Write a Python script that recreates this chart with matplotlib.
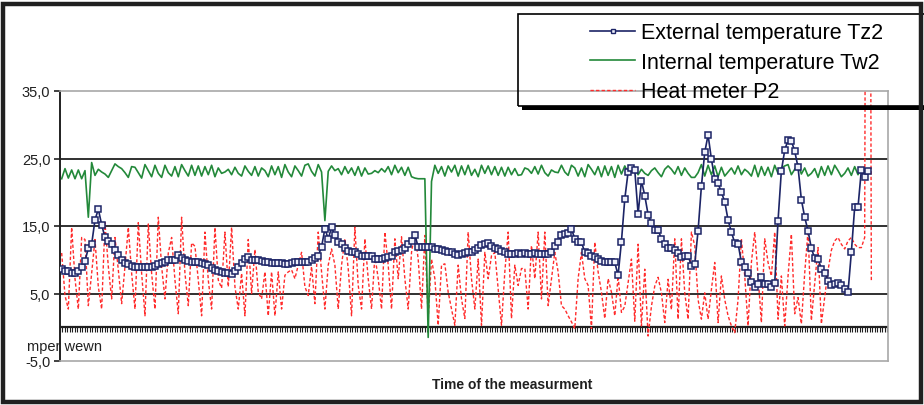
import numpy as np
import matplotlib
matplotlib.use("Agg")
import matplotlib.pyplot as plt
from matplotlib.patches import Rectangle
from matplotlib.lines import Line2D

plt.rcParams['font.family'] = ['Liberation Sans', 'DejaVu Sans']

# ---------------- data ----------------
tz2 = [
    8.6, 8.4, 8.3, 8.1, 8.1, 8.3, 8.9, 9.8, 11.7, 12.3,
    15.9, 17.5, 15.2, 13.3, 12.8, 12.3, 11.5, 10.7, 9.9, 9.5,
    9.4, 9.1, 9.0, 9.0, 8.9, 8.9, 8.9, 9.0, 9.1, 9.3,
    9.5, 9.7, 10.0, 10.0, 10.0, 10.7, 10.2, 10.0, 9.8, 9.7,
    9.7, 9.6, 9.5, 9.4, 9.2, 8.8, 8.5, 8.4, 8.2, 8.1,
    8.0, 7.9, 8.4, 8.9, 9.5, 10.1, 10.4, 9.9, 9.9, 9.9,
    9.8, 9.6, 9.6, 9.5, 9.5, 9.5, 9.5, 9.4, 9.3, 9.5,
    9.6, 9.6, 9.6, 9.6, 9.6, 9.9, 10.3, 10.6, 11.9, 14.6,
    13.1, 14.8, 13.6, 12.7, 12.3, 11.8, 11.3, 11.1, 11.1, 10.9,
    10.5, 10.6, 10.6, 10.5, 10.1, 10.1, 10.1, 10.2, 10.4, 10.5,
    11.1, 11.3, 11.5, 11.8, 12.3, 12.8, 13.7, 11.9, 11.9, 11.9,
    11.9, 11.9, 11.6, 11.6, 11.5, 11.3, 11.2, 11.1, 10.9, 10.7,
    10.9, 11.0, 11.1, 11.2, 11.4, 11.7, 12.2, 12.4, 12.5, 12.0,
    11.8, 11.6, 11.3, 11.1, 10.9, 10.9, 10.9, 11.0, 10.9, 11.0,
    10.9, 10.9, 11.0, 10.9, 10.9, 10.9, 10.9, 11.1, 12.1, 12.6,
    13.6, 13.8, 14.0, 14.6, 13.1, 12.6, 12.6, 11.1, 11.0, 10.6,
    10.4, 10.1, 9.8, 9.7, 9.7, 9.7, 9.6, 7.7, 12.7, 19.0,
    23.0, 23.6, 23.3, 16.8, 21.7, 19.5, 16.7, 15.4, 14.4, 14.4,
    13.1, 12.4, 11.8, 11.7, 11.4, 11.0, 10.4, 10.5, 10.6, 9.1,
    9.4, 14.3, 20.9, 25.9, 28.5, 24.9, 22.0, 21.3, 20.0, 18.6,
    15.9, 14.1, 12.5, 12.4, 9.6, 9.0, 8.0, 6.7, 5.9, 6.4,
    7.4, 6.4, 6.4, 5.9, 6.5, 15.8, 23.2, 26.2, 27.8, 27.6,
    26.1, 23.7, 18.9, 16.3, 14.3, 11.7, 10.2, 10.1, 8.7, 8.1,
    6.9, 6.3, 6.4, 6.6, 6.3, 5.7, 5.2, 11.1, 17.8, 17.8,
    23.3, 22.2, 23.2,
]

tw2 = [
    22.0, 23.5, 22.1, 23.3, 22.0, 23.3, 22.0, 23.2, 16.3, 24.4,
    22.5, 23.4, 23.0, 22.7, 22.2, 23.2, 24.2, 23.8, 23.5, 22.9,
    22.2, 23.8, 23.7, 22.9, 22.1, 24.1, 23.2, 22.3, 24.0, 22.8,
    22.2, 24.0, 22.9, 22.4, 23.8, 22.3, 24.1, 23.2, 22.4, 24.0,
    22.5, 23.9, 22.4, 23.8, 22.6, 24.0, 22.3, 23.6, 22.8, 23.0,
    23.4, 22.6, 23.7, 22.8, 22.4, 23.9, 23.1, 22.5, 23.8, 22.4,
    23.6, 23.2, 22.3, 23.9, 22.6, 23.8, 22.2, 24.1, 23.0, 22.3,
    23.9, 23.2, 22.4, 24.0, 24.2, 23.1, 22.4, 24.1, 23.0, 15.8,
    23.1, 23.9, 23.2, 23.5, 22.6, 23.8, 22.8, 23.6, 22.5, 23.8,
    22.4, 23.6, 22.7, 22.8, 23.2, 22.9, 23.5, 23.0, 23.8, 22.6,
    24.0, 22.9, 23.7, 22.5, 23.7, 22.3, 22.1, 22.0, 22.0, 22.0,
    -1.5, 21.6, 24.0, 22.8, 23.8, 22.4, 23.9, 23.0, 24.0, 22.4,
    23.9, 22.6, 24.0, 22.5, 23.4, 22.3, 24.0, 22.8, 23.9, 22.6,
    23.8, 22.5, 23.7, 22.4, 23.7, 22.6, 23.5, 22.5, 22.6, 23.6,
    23.4, 22.8, 23.8, 22.7, 24.0, 22.9, 22.4, 23.3, 23.0, 22.9,
    24.0, 23.0, 22.5, 24.0, 23.6, 22.4, 23.6, 22.3, 24.1, 23.4,
    22.6, 23.8, 22.3, 23.9, 22.5, 23.8, 22.2, 24.0, 22.7, 23.9,
    22.8, 23.6, 23.5, 22.6, 23.4, 22.8, 22.5, 23.2, 23.6, 22.9,
    22.3, 23.4, 23.9, 23.4, 22.7, 23.8, 22.5, 23.6, 22.8, 22.2,
    22.2, 22.9, 24.1, 22.4, 24.0, 22.6, 23.9, 22.3, 23.7, 22.4,
    23.0, 23.6, 22.7, 23.9, 22.6, 23.4, 23.0, 22.4, 24.0, 22.3,
    23.8, 22.5, 23.7, 22.3, 24.0, 22.8, 23.6, 23.9, 24.1, 22.6,
    23.4, 24.2, 22.7, 23.6, 22.4, 22.8, 23.5, 22.2, 23.8, 22.5,
    23.9, 22.6, 24.0, 23.2, 22.3, 22.8, 23.6, 22.5, 23.8, 22.6,
    23.5, 23.0, 23.3,
]

p2 = [
    11.0, 4.7, 2.7, 14.8, 7.2, 2.7, 13.3, 13.0, 3.2, 8.0,
    13.0, 6.0, 2.7, 15.5, 9.0, 4.2, 13.3, 8.5, 3.5, 9.0,
    14.8, 8.0, 2.7, 15.5, 8.0, 1.7, 15.3, 8.0, 2.7, 16.3,
    9.0, 4.2, 11.0, 13.3, 7.0, 2.0, 16.3, 8.0, 3.2, 12.5,
    12.0, 7.0, 1.7, 14.1, 7.0, 2.7, 14.8, 7.0, 5.8, 14.1,
    6.0, 14.8, 6.0, 2.7, 8.0, 1.7, 13.0, 5.0, 11.5, 5.2,
    4.2, 8.2, 1.7, 8.2, 1.7, 8.2, 2.7, 7.7, 8.2, 8.5,
    7.2, 9.2, 11.1, 6.0, 4.7, 9.0, 3.5, 14.1,
    8.2, 2.7, 9.2, 11.6, 9.2, 2.7, 9.2, 13.1, 8.7, 1.7,
    14.8, 6.2, 2.7, 13.1, 7.2, 2.7, 10.6, 7.2, 2.7, 14.1,
    9.2, 2.7, 13.1, 7.2, 13.4, 7.2, 2.7, 11.1, 14.1, 10.1,
    2.7, 13.6, 1.3, 10.1, 7.2, 0.3, 9.2, 9.4, 5.2, 2.7,
    0.3, 9.2, 4.2, 1.3, 14.1, 7.2, 2.7, 10.1, 0.3, 11.1,
    7.2, 10.6, 11.1, 5.7, 0.3, 8.2, 14.1, 1.3, 9.2, 6.2,
    8.7, 8.7, 2.7, 12.1, 7.2, 14.1, 4.2, 14.1, 3.2, 7.2,
    11.1, 8.2, 3.2, 2.7, 1.7, 0.8, -0.2, 7.2, 11.1, 7.2,
    6.2, -0.2, 12.6, 8.2, 5.2, 1.3, 7.2, 5.2, 1.7, 7.6,
    2.2, 3.1, 6.6, 10.1, 0.9, 12.3, 0.2, 8.6, -1.3, 3.1,
    6.1, 7.4, 5.1, 0.7, 7.1, 2.6, 13.1, 1.2, 13.1, 5.1,
    1.2, 14.1, 12.1, 4.1, 1.2, 5.1, 1.2, 5.6, 9.6, 0.7,
    7.6, 4.1, 1.7, 0.2, -0.8, 4.1, 13.1, 7.6, 0.2, 9.6,
    14.1, 7.6, 0.7, 13.1, 9.6, 7.6, 14.1, 1.2, 7.6, 0.2,
    7.6, 13.8, 2.0, 4.4, 0.5, 8.0, 14.3, 1.0, 6.5, 11.8,
    0.5, 4.4, 8.4, 11.4, 12.8, 13.3, 12.3, 11.6, 12.8, 13.3,
    12.3, 11.8, 11.8, 13.3, 200.0, 6.7,
]

labels = ["External temperature Tz2", "Internal temperature Tw2", "Heat meter P2"]
y_ticks = [-5, 5, 15, 25, 35]
y_ticklabels = ["-5,0", "5,0", "15,0", "25,0", "35,0"]
x_title = "Time of the measurment"
stray_text = "mper wewn"

# ---------------- figure ----------------
W, H = 924, 406
fig = plt.figure(figsize=(W / 100, H / 100), dpi=100)
fig.patch.set_facecolor("white")

def fx(px):
    return px / W

def fy(py):
    return 1 - py / H

ax = fig.add_axes([fx(60), fy(362), fx(888) - fx(60), fy(92) - fy(362)])
ax.set_facecolor("white")

navy = "#1c2466"
green = "#23893a"
red = "#ff2b2b"

x1 = np.arange(len(tz2))
x2 = np.arange(len(tw2))
x3 = np.arange(len(p2))

ax.set_xlim(-0.5, 248.0)
ax.set_ylim(-5, 35)

# gridlines
for g in [5, 15, 25]:
    ax.axhline(g, color="#202020", lw=1.3, zorder=1)
# x axis at 0
ax.axhline(0, color="#202020", lw=1.6, zorder=1.5)
ax.vlines(np.arange(-0.5, 248.0, 0.75), -0.75, 0, color="#202020", lw=0.8, zorder=1.5)

ax.plot(x3, p2, color=red, lw=1.0, dashes=(2.4, 1.6), zorder=3)
ax.plot(x2, tw2, color=green, lw=1.2, zorder=4)
ax.plot(x1, tz2, color=navy, lw=1.2, marker="s", markersize=4.2,
        markerfacecolor="#eef0fa", markeredgecolor=navy, markeredgewidth=1.1, zorder=5)

# spines
for s in ["top", "right", "bottom"]:
    ax.spines[s].set_color("#a8a8a8")
    ax.spines[s].set_linewidth(1.2)
ax.spines["left"].set_color("#202020")
ax.spines["left"].set_linewidth(1.4)

ax.set_xticks([])
ax.set_yticks(y_ticks)
ax.set_yticklabels(y_ticklabels, fontsize=10.5, color="#202020")
ax.tick_params(axis="y", length=4, width=1.2, color="#202020", pad=3)

fig.text(fx(512), fy(385), x_title, ha="center", va="center",
         fontsize=10, fontweight="bold", color="#202020")
fig.text(fx(27), fy(347), stray_text, ha="left", va="center",
         fontsize=10.5, color="#202020", zorder=0)

# legend (transparent box with shadow)
handles = [
    Line2D([], [], color=navy, lw=1.2, marker="s", markersize=3,
           markerfacecolor="#eef0fa", markeredgecolor=navy),
    Line2D([], [], color=green, lw=1.2),
    Line2D([], [], color=red, lw=1.0, dashes=(2.4, 1.6)),
]
fig.legend(handles, labels, loc="upper left", bbox_to_anchor=(fx(575), fy(8)),
           frameon=False, fontsize=15.5, handlelength=2.1, handletextpad=0.25,
           labelspacing=0.40, borderpad=0.2)

fig.patches.append(Rectangle((fx(522), fy(111)), fx(930) - fx(522), fy(107) - fy(111),
                             transform=fig.transFigure, facecolor="black",
                             edgecolor="none", zorder=0))
fig.patches.append(Rectangle((fx(518), fy(107)), fx(930) - fx(518), fy(15) - fy(107),
                             transform=fig.transFigure, facecolor="none",
                             edgecolor="black", lw=1.2, zorder=0))

# outer chart frame
fig.patches.append(Rectangle((fx(3), fy(403)), fx(921) - fx(3), fy(5) - fy(403),
                             transform=fig.transFigure, facecolor="none",
                             edgecolor="#202020", lw=3.2, zorder=0))

fig.savefig("out.png", dpi=100, facecolor="white")
